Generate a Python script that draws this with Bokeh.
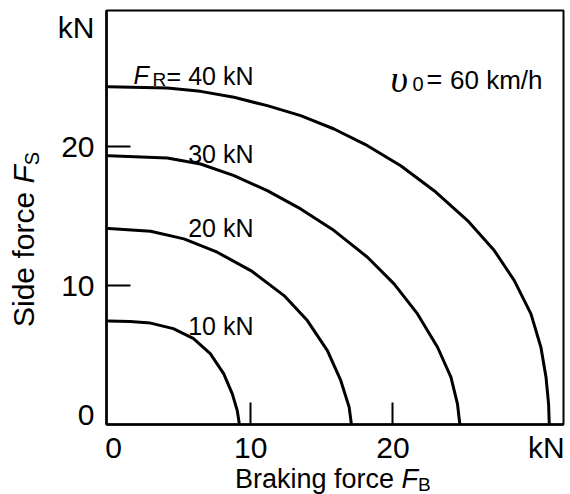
import math
from bokeh.plotting import figure
from bokeh.models import Label, FixedTicker, Range1d, LinearAxis, Div
from bokeh.layouts import row, column
from bokeh.embed import file_html
from bokeh.resources import INLINE

# ---- data (kN) ----
# braking force F_B and side force F_S for each resultant force F_R
fb_10 = [0, 1.5, 2.95, 4.55, 5.95, 7.15, 8.1, 8.7, 9.05, 9.2]
fs_10 = [7.45, 7.42, 7.3, 6.9, 6.2, 5.1, 3.65, 2.2, 1.0, 0]

fb_20 = [0, 2.95, 5.3, 7.64, 10.0, 12.34, 13.98, 15.39, 16.33, 16.92, 17.08]
fs_20 = [14.1, 13.91, 13.36, 12.4, 11.08, 9.28, 7.48, 5.32, 3.17, 1.25, 0]

fb_30 = [0, 4.12, 6.47, 8.82, 11.16, 13.51, 15.86, 18.21, 20.08, 21.73, 23.14, 24.08, 24.54, 24.71]
fs_30 = [19.35, 19.18, 18.75, 17.91, 16.83, 15.52, 13.96, 12.04, 10.12, 7.96, 5.56, 3.41, 1.49, 0]

fb_40 = [0, 4.12, 6.47, 8.82, 11.16, 13.51, 15.86, 18.21, 20.55, 22.9, 25.25, 27.13, 28.54, 29.71, 30.41, 30.77, 30.95, 31.0]
fs_40 = [24.32, 24.22, 23.98, 23.55, 22.95, 22.23, 21.27, 20.07, 18.63, 16.83, 14.68, 12.52, 10.36, 7.96, 5.56, 3.41, 1.49, 0]

curve_labels = ["10 kN", "20 kN", "30 kN", "40 kN"]
tick_marks = [10, 20]                      # inward tick marks on both axes
x_label_at = [0.35, 10, 20, 30.8]          # where the x labels sit in the picture
x_label_text = ["0", "10", "20", "kN"]
y_label_at = [0.75, 10, 20, 28.6]          # where the y labels sit in the picture
y_label_text = ["0", "10", "20", "kN"]
speed_text = "60 km/h"

FONT = "Liberation Sans"
X0, X1 = -0.15, 32.0
Y0, Y1 = 0.0, 29.8

YDIV_W = 46
FL, FT, FW, FH = 60, 10, 457, 414  # frame inside the figure (pixels)
PW, PH = FL + FW + 5, 468          # figure size
XDIV_H = 26

p = figure(width=PW, height=PH, output_backend="svg", toolbar_location=None,
           x_range=Range1d(X0, X1), y_range=Range1d(Y0, Y1),
           min_border_left=FL, min_border_right=PW - FL - FW,
           min_border_top=FT, min_border_bottom=PH - FT - FH, margin=0)
p.grid.visible = False
p.background_fill_color = "white"
p.border_fill_color = "white"
p.outline_line_color = "black"
p.outline_line_width = 2

# inner axes: line + inward ticks, labels not drawn
xa = p.xaxis[0]
ya = p.yaxis[0]
xa.ticker = FixedTicker(ticks=tick_marks, minor_ticks=[])
ya.ticker = FixedTicker(ticks=tick_marks, minor_ticks=[])
for ax, tin in ((xa, 22), (ya, 24)):
    ax.axis_line_color = "black"
    ax.axis_line_width = 2.5
    ax.major_tick_in = tin
    ax.major_tick_out = 0
    ax.major_tick_line_width = 2
    ax.major_tick_line_color = "black"
    ax.minor_tick_line_color = None
    ax.major_label_text_font_size = "1px"
    ax.major_label_text_color = None
    ax.major_label_standoff = 0

# outer axes: only the labels (numbers and unit)
xb = LinearAxis(ticker=FixedTicker(ticks=x_label_at, minor_ticks=[]),
                major_label_overrides=dict(zip(x_label_at, x_label_text)))
yb = LinearAxis(ticker=FixedTicker(ticks=y_label_at, minor_ticks=[]),
                major_label_overrides=dict(zip(y_label_at, y_label_text)))
for ax in (xb, yb):
    ax.axis_line_color = None
    ax.major_tick_line_color = None
    ax.minor_tick_line_color = None
    ax.major_tick_in = 0
    ax.major_tick_out = 0
    ax.major_label_text_font = FONT
    ax.major_label_text_font_size = "30px"
    ax.major_label_text_color = "black"
xb.major_label_standoff = 6
yb.major_label_standoff = 12
p.add_layout(xb, "below")
p.add_layout(yb, "left")

for fb, fs in ((fb_10, fs_10), (fb_20, fs_20), (fb_30, fs_30), (fb_40, fs_40)):
    p.line(fb, fs, line_color="black", line_width=3, line_cap="round", line_join="round")


# page-pixel helpers for placing the in-frame texts
def dx(px):
    return X0 + (px - YDIV_W - FL) * (X1 - X0) / FW


def dy(py):
    return Y0 + (FT + FH - py) * (Y1 - Y0) / FH


def lab(text, px, py, size, align="left", style="normal", font=FONT):
    p.add_layout(Label(x=dx(px), y=dy(py), text=text, text_font=font,
                       text_font_size=f"{size}px", text_font_style=style,
                       text_align=align, text_baseline="alphabetic",
                       text_color="black"))


# curve annotations
lab(curve_labels[2], 253, 153, 25, align="right")
lab(curve_labels[1], 253, 227, 25, align="right")
lab(curve_labels[0], 253, 325, 25, align="right")
lab(curve_labels[3], 253, 75, 25, align="right")
lab("F", 133, 74, 25, style="italic")
lab("R", 152, 79, 19)
lab("=", 166, 75, 25)

# speed
lab("υ", 390, 78, 38, style="italic", font="Liberation Serif")
lab("0", 412, 83, 20)
lab("=", 426, 79, 27)
lab(speed_text, 542, 79, 26, align="right")

# axis titles as HTML (italic symbol with subscript)
ytitle = Div(width=YDIV_W, height=PH, margin=0, text=(
    '<div style="width:%dpx;height:%dpx;box-sizing:border-box;transform-origin:0 0;'
    'transform:translate(0px,%dpx) rotate(-90deg);padding-left:%dpx;'
    "font-family:'Liberation Sans';font-size:30px;line-height:%dpx;white-space:nowrap;color:black;\">"
    'Side force <i>F</i><span style="font-size:20px;position:relative;top:5px;">S</span></div>'
) % (PH, YDIV_W, PH, PH - 327, YDIV_W + 2))

xtitle = Div(width=YDIV_W + PW, height=XDIV_H, margin=0, text=(
    '<div style="padding-left:235px;font-family:\'Liberation Sans\';font-size:27px;'
    'line-height:22px;white-space:nowrap;color:black;">'
    'Braking force <i>F</i><span style="font-size:19px;position:relative;top:3px;">B</span></div>'
))

layout = column(row(ytitle, p, margin=0), xtitle, margin=0)

open("out.html", "w").write(file_html(layout, INLINE))
